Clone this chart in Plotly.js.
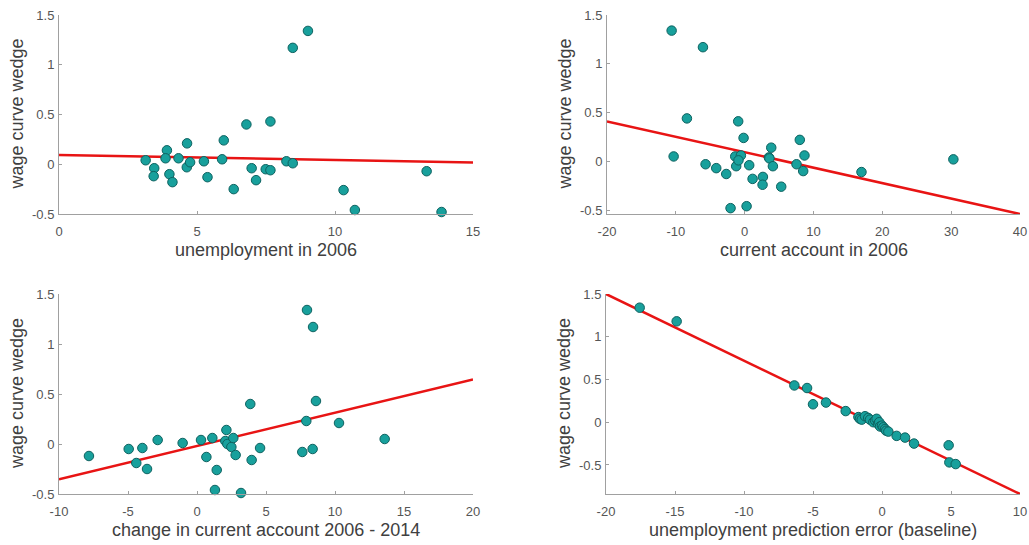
<!DOCTYPE html>
<html>
<head>
<meta charset="utf-8">
<script src="https://cdn.plot.ly/plotly-3.0.1.min.js"></script>
<style>html,body{margin:0;padding:0;background:#fff;}#chart{width:1029px;height:545px;}</style>
</head>
<body>
<div id="chart"></div>
<script>
// Panel 1: unemployment in 2006
var unemp2006 = [3.14, 3.45, 3.43, 3.91, 3.86, 4.0, 4.11, 4.33, 4.64, 4.63, 4.75, 5.25, 5.38, 5.97, 5.91, 6.33, 6.79, 6.98, 7.14, 7.49, 7.66, 7.66, 8.24, 8.47, 8.47, 9.02, 10.31, 10.72, 13.32, 13.86];
var wedge1 = [0.04, -0.04, -0.12, 0.14, 0.06, -0.10, -0.18, 0.06, 0.21, -0.03, 0.02, 0.03, -0.13, 0.24, 0.05, -0.25, 0.40, -0.04, -0.16, -0.05, -0.06, 0.43, 0.03, 0.01, 1.17, 1.34, -0.26, -0.46, -0.07, -0.48];

// Panel 2: current account in 2006
var ca2006 = [-10.61, -6.06, -8.39, -10.32, -5.68, -4.13, -2.68, -2.05, -0.94, -1.37, -0.55, -1.23, -0.9, -0.16, 0.28, 0.66, 1.15, 2.65, 2.6, 3.52, 3.6, 3.86, 4.1, 5.31, 7.53, 8.01, 8.69, 8.5, 16.97, 30.32];
var wedge2 = [1.34, 1.17, 0.44, 0.05, -0.03, -0.07, -0.13, -0.48, 0.41, 0.05, 0.06, -0.05, 0.01, 0.24, -0.46, -0.04, -0.18, -0.16, -0.24, 0.04, 0.03, 0.14, -0.05, -0.26, -0.03, 0.22, 0.06, -0.10, -0.11, 0.02];

// Panel 3: change in current account 2006 - 2014
var dca = [-7.83, -4.95, -4.4, -3.96, -3.62, -2.85, -1.04, 0.29, 0.68, 1.11, 1.30, 1.43, 2.13, 2.05, 2.2, 2.49, 2.63, 2.80, 3.19, 3.86, 3.96, 4.57, 7.63, 7.92, 7.97, 8.41, 8.38, 8.62, 10.29, 13.6];
var wedge3 = [-0.12, -0.05, -0.19, -0.04, -0.25, 0.04, 0.01, 0.04, -0.13, 0.06, -0.46, -0.26, 0.14, 0.03, 0.0, -0.03, 0.06, -0.11, -0.49, 0.40, -0.16, -0.04, -0.08, 0.23, 1.34, 1.17, -0.05, 0.43, 0.21, 0.05];

// Panel 4: unemployment prediction error (baseline)
var upe = [-17.56, -14.88, -6.35, -5.43, -5.0, -4.06, -2.63, -1.71, -1.6, -1.47, -1.23, -1.0, -0.87, -0.63, -0.5, -0.39, -0.29, -0.2, -0.14, 0.0, 0.1, 0.22, 0.3, 0.46, 1.06, 1.67, 2.32, 4.83, 4.88, 5.34];
var wedge4 = [1.34, 1.18, 0.43, 0.40, 0.21, 0.23, 0.13, 0.06, 0.04, 0.03, 0.07, 0.05, 0.03, 0.0, 0.02, 0.04, -0.02, 0.0, -0.05, -0.04, -0.06, -0.08, -0.10, -0.11, -0.16, -0.18, -0.25, -0.27, -0.47, -0.49];

// Fitted lines: y = intercept + slope * x
var fitIntercept = [0.094, 0.093, -0.02, -0.06];
var fitSlope = [-0.0051, -0.01583, 0.0333, -0.078];

// Axis titles and ticks
var xTitles = ["unemployment in 2006", "current account in 2006", "change in current account 2006 - 2014", "unemployment prediction error (baseline)"];
var yTitle = "wage curve wedge";
var xTickVals = [[0, 5, 10, 15], [-20, -10, 0, 10, 20, 30, 40], [-10, -5, 0, 5, 10, 15, 20], [-20, -15, -10, -5, 0, 5, 10]];
var xTickText = [["0", "5", "10", "15"], ["-20", "-10", "0", "10", "20", "30", "40"], ["-10", "-5", "0", "5", "10", "15", "20"], ["-20", "-15", "-10", "-5", "0", "5", "10"]];
var yTickVals = [-0.5, 0, 0.5, 1, 1.5];
var yTickText = ["-0.5", "0", "0.5", "1", "1.5"];

var xRanges = [[0, 15], [-20, 40], [-10, 20], [-20, 10]];
var yRanges = [[-0.5, 1.5], [-0.54, 1.5], [-0.5, 1.5], [-0.84, 1.5]];

var W = 1029, H = 545;
// plot-area pixel boxes [left, right, top, bottom]
var boxes = [[59, 473, 15, 214], [607, 1020, 15, 214], [59, 473, 294, 494], [606, 1020, 294, 494]];

var xs = [unemp2006, ca2006, dca, upe];
var ys = [wedge1, wedge2, wedge3, wedge4];

var traces = [];
var layout = {
  width: W, height: H,
  margin: {l: 0, r: 0, t: 0, b: 0},
  paper_bgcolor: "#ffffff",
  plot_bgcolor: "#ffffff",
  showlegend: false,
  font: {family: "Liberation Sans, Arial, sans-serif", color: "#555555"},
  annotations: []
};

var axisColor = "#a0a0a0";
var tickFont = {size: 13, color: "#555555", family: "Liberation Sans, Arial, sans-serif"};
for (var i = 0; i < 4; i++) {
  var xa = "x" + (i === 0 ? "" : (i + 1));
  var ya = "y" + (i === 0 ? "" : (i + 1));
  var b = boxes[i];
  var xr = xRanges[i];
  traces.push({
    x: [xr[0], xr[1]],
    y: [fitIntercept[i] + fitSlope[i] * xr[0], fitIntercept[i] + fitSlope[i] * xr[1]],
    xaxis: xa, yaxis: ya,
    mode: "lines",
    line: {color: "rgb(232,20,20)", width: 2.5},
    hoverinfo: "skip"
  });
  traces.push({
    x: xs[i], y: ys[i],
    xaxis: xa, yaxis: ya,
    mode: "markers",
    marker: {size: 9.5, color: "rgb(24,160,156)", line: {color: "rgb(14,98,96)", width: 1}},
    cliponaxis: false
  });
  var xkey = "xaxis" + (i === 0 ? "" : (i + 1));
  var ykey = "yaxis" + (i === 0 ? "" : (i + 1));
  layout[xkey] = {
    domain: [b[0] / W, b[1] / W],
    range: xr,
    anchor: ya,
    showgrid: false, zeroline: false,
    showline: true, linecolor: axisColor, linewidth: 1,
    ticks: "inside", ticklen: 3, tickcolor: axisColor,
    tickmode: "array", tickvals: xTickVals[i], ticktext: xTickText[i],
    tickfont: tickFont, ticklabelstandoff: 5,
    fixedrange: true
  };
  layout[ykey] = {
    domain: [(H - b[3]) / H, (H - b[2]) / H],
    range: yRanges[i],
    anchor: xa,
    showgrid: false, zeroline: false,
    showline: true, linecolor: axisColor, linewidth: 1,
    ticks: "inside", ticklen: 3, tickcolor: axisColor,
    tickmode: "array", tickvals: yTickVals, ticktext: yTickText,
    tickfont: tickFont, ticklabelstandoff: 1,
    fixedrange: true
  };
  // x-axis title
  layout.annotations.push({
    text: xTitles[i], xref: "paper", yref: "paper",
    x: (b[0] + b[1]) / 2 / W, y: (H - (b[3] + 36)) / H,
    xanchor: "center", yanchor: "middle", showarrow: false,
    font: {size: 18, color: "#404040", family: "Liberation Sans, Arial, sans-serif"}
  });
  // y-axis title
  layout.annotations.push({
    text: yTitle, xref: "paper", yref: "paper",
    x: (b[0] - 42) / W, y: (H - (b[2] + b[3]) / 2) / H,
    xanchor: "center", yanchor: "middle", showarrow: false, textangle: -90,
    font: {size: 18, color: "#404040", family: "Liberation Sans, Arial, sans-serif"}
  });
}

Plotly.newPlot("chart", traces, layout, {staticPlot: true, displayModeBar: false});
</script>
</body>
</html>
